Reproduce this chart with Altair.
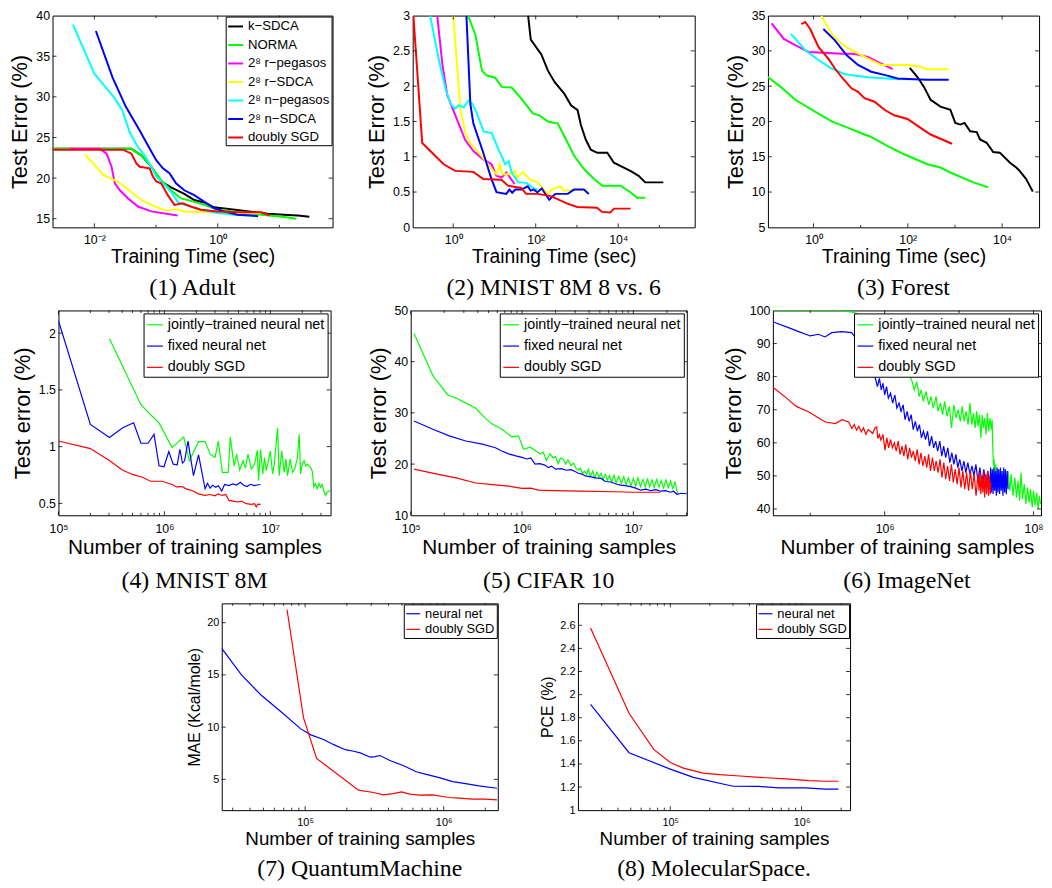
import math
import altair as alt
import pandas as pd

# ================= DATA =================
# ---- (1) Adult : training time (sec) vs test error (%)
A_NAMES = ["k−SDCA", "NORMA", "2⁸ r−pegasos", "2⁸ r−SDCA", "2⁸ n−pegasos", "2⁸ n−SDCA", "doubly SGD"]
A_COLORS = ["#000000", "#00ff00", "#ff00ff", "#ffff00", "#00ffff", "#0000ff", "#ff0000"]
A_KSDCA_X = [0.0021, 0.0399, 0.0577, 0.0836, 0.121, 0.175, 0.287, 0.416, 0.6, 0.87, 1.9, 3.99, 6.53, 13.7, 20, 30.5]
A_KSDCA_Y = [23.6, 23.6, 22.8, 21.4, 19.6, 18.85, 18.05, 17.3, 17.0, 16.4, 16.1, 15.8, 15.6, 15.45, 15.4, 15.25]
A_NORMA_X = [0.0021, 0.0399, 0.0577, 0.0836, 0.121, 0.175, 0.254, 0.368, 0.6, 0.99, 1.83, 5.1, 12.1, 18.7]
A_NORMA_Y = [23.6, 23.6, 22.8, 21.4, 19.75, 18.5, 17.5, 17.2, 16.7, 16.1, 15.9, 15.5, 15.2, 15.0]
A_RPEG_X = [0.004, 0.0123, 0.0158, 0.019, 0.0215, 0.0259, 0.0352, 0.051, 0.0836, 0.224]
A_RPEG_Y = [23.6, 23.6, 23.0, 21.4, 19.35, 18.5, 17.5, 16.5, 15.9, 15.4]
A_RSDCA_X = [0.0071, 0.014, 0.0243, 0.0399, 0.0577, 0.0836, 0.121, 0.155, 0.211, 0.287, 0.99, 3.4, 5.1]
A_RSDCA_Y = [22.9, 20.4, 19.55, 18.3, 17.3, 16.7, 16.2, 16.0, 16.2, 15.9, 15.8, 15.7, 15.7]
A_NPEG_X = [0.0045, 0.01, 0.021, 0.0286, 0.0375, 0.051, 0.0653, 0.0836, 0.1007, 0.137, 0.175, 0.224, 0.287, 0.533, 0.99, 1.83, 3.4, 3.99]
A_NPEG_Y = [38.9, 32.85, 29.9, 28.3, 25.6, 23.8, 22.8, 21.4, 20.2, 19.15, 18.3, 17.1, 16.7, 16.1, 15.7, 15.5, 15.4, 15.3]
A_NSDCA_X = [0.0106, 0.0197, 0.0323, 0.0543, 0.074, 0.1007, 0.129, 0.165, 0.211, 0.287, 0.416, 0.6, 0.87, 1.26, 2.07, 3.4, 4.51]
A_NSDCA_Y = [38.1, 32.4, 28.8, 25.85, 24.0, 22.2, 21.2, 20.6, 19.35, 18.5, 17.9, 17.1, 16.3, 15.9, 15.5, 15.4, 15.3]
A_DSGD_X = [0.0021, 0.0292, 0.0399, 0.048, 0.0543, 0.0786, 0.0889, 0.1007, 0.121, 0.155, 0.1985, 0.27, 0.368, 0.533, 0.99, 2.07, 5.1, 6.95]
A_DSGD_Y = [23.5, 23.5, 23.0, 21.8, 21.4, 21.2, 20.2, 19.6, 19.35, 17.9, 16.7, 16.9, 16.5, 16.1, 15.9, 15.8, 15.8, 15.4]

# ---- (2) MNIST 8M 8 vs. 6
B_KSDCA_X = [65.5, 75.9, 137, 198, 286, 497, 718, 1038, 1247, 1644, 2168, 3133, 5445, 7870, 13677, 19770, 31333, 45290, 124738]
B_KSDCA_Y = [3.0, 2.66, 2.45, 2.22, 2.06, 1.89, 1.73, 1.66, 1.45, 1.24, 1.10, 1.056, 1.056, 0.916, 0.846, 0.80, 0.73, 0.637, 0.637]
B_NORMA_X = [2.29, 3.44, 4.97, 6.5, 10.4, 15.0, 26.1, 45.3, 86.3, 120, 198, 344, 546, 863, 1500, 2606, 4130, 11376, 19770, 28576, 45290]
B_NORMA_Y = [3.0, 2.73, 2.22, 2.15, 2.12, 1.99, 1.98, 1.82, 1.61, 1.59, 1.50, 1.47, 1.24, 1.01, 0.823, 0.684, 0.59, 0.59, 0.498, 0.42, 0.42]
B_RPEG_X = [0.41, 0.545, 0.718, 1.0, 1.94, 3.08, 5.35, 8.47, 11.2, 15.0, 19.4, 30.8]
B_RPEG_Y = [3.0, 2.31, 1.87, 1.66, 1.24, 1.08, 0.963, 0.893, 0.73, 0.707, 0.777, 0.614]
B_RSDCA_X = [1.0, 1.25, 1.5, 1.98, 2.56, 4.88, 9.29, 11.4, 13.4, 15.5, 24, 30.8, 36, 48.8, 70.5, 112, 194, 256, 405, 480, 1770]
B_RSDCA_Y = [3.0, 2.27, 1.66, 1.335, 1.195, 1.01, 0.80, 0.753, 0.893, 0.753, 0.753, 0.80, 0.707, 0.786, 0.684, 0.637, 0.474, 0.544, 0.581, 0.52, 0.535]
B_NPEG_X = [0.275, 0.453, 0.655, 0.863, 1.1, 1.37, 1.8, 2.38, 2.9, 3.77, 5.45, 8.63, 12.5, 15, 18.0, 22, 26.1, 37.7, 60, 94.6, 112]
B_NPEG_Y = [3.0, 2.36, 1.96, 1.75, 1.68, 1.73, 1.70, 1.80, 1.75, 1.61, 1.36, 1.335, 1.10, 1.01, 0.893, 0.94, 0.777, 0.637, 0.63, 0.544, 0.544]
B_NSDCA_X = [2.09, 2.6, 3.08, 5.35, 8.47, 11.2, 19.4, 23, 27, 32, 45, 64.3, 75, 90, 110, 140, 213, 260, 300, 600, 847, 1472, 1941]
B_NSDCA_Y = [3.0, 1.75, 1.47, 1.056, 0.684, 0.498, 0.474, 0.535, 0.49, 0.535, 0.535, 0.581, 0.52, 0.535, 0.498, 0.55, 0.39, 0.44, 0.474, 0.474, 0.535, 0.535, 0.474]
B_DSGD_X = [0.108, 0.177, 0.308, 0.586, 1.117, 3.08, 5.35, 14.7, 21.3, 44.5, 58.6, 111.7, 233, 586, 1019, 3076, 4055, 6427, 7900, 20000]
B_DSGD_Y = [3.0, 1.195, 1.056, 0.893, 0.80, 0.786, 0.684, 0.674, 0.59, 0.558, 0.474, 0.474, 0.442, 0.335, 0.288, 0.279, 0.219, 0.209, 0.265, 0.265]

# ---- (3) Forest
C_KSDCA_X = [110, 160, 220, 304, 492, 798, 1016, 1294, 1600, 2098, 2895, 3400, 4692, 6475, 8935, 14491, 19988, 23496, 32400, 44700]
C_KSDCA_Y = [27.6, 26.3, 24.9, 23.07, 22.1, 21.66, 19.8, 19.56, 19.8, 18.6, 18.5, 17.45, 16.98, 15.67, 15.58, 14.18, 13.47, 13.0, 11.84, 10.06]
C_NORMA_X = [0.108, 0.2, 0.41, 1.08, 2.43, 5.42, 12.1, 16.7, 37.4, 83.8, 259, 492, 798, 2465, 5082]
C_NORMA_Y = [26.3, 24.9, 23.07, 21.4, 20.0, 19.1, 18.15, 17.8, 16.5, 15.35, 13.94, 13.47, 12.77, 11.37, 10.67]
C_RPEG_X = [0.129, 0.235, 0.41, 0.785, 2.06, 3.93, 7.0, 14.3, 27.2, 47.7]
C_RPEG_Y = [33.9, 31.7, 30.8, 29.85, 29.7, 29.6, 29.6, 29.15, 28.2, 27.4]
C_RSDCA_X = [1.45, 2.43, 3.93, 6.37, 14.3, 27.2, 50, 98.4, 187, 250, 736]
C_RSDCA_Y = [35.0, 32.4, 31.0, 30.1, 28.9, 28.0, 28.0, 28.0, 27.75, 27.4, 27.4]
C_NPEG_X = [0.334, 0.668, 1.27, 2.43, 4.61, 14.3, 51.7, 116]
C_NPEG_Y = [32.4, 30.1, 28.7, 27.5, 26.7, 26.25, 26.0, 25.97]
C_NSDCA_X = [1.62, 2.85, 5.0, 8.79, 16.7, 31.9, 60.7, 136, 259, 736]
C_NSDCA_Y = [33.1, 31.5, 29.4, 28.0, 27.05, 26.6, 26.1, 25.97, 25.9, 25.9]
C_DSGD_X = [0.551, 0.668, 0.851, 1.27, 2.06, 2.85, 3.93, 6.37, 8.79, 12.1, 19.7, 31.9, 51.7, 98.4, 187, 304, 492, 865]
C_DSGD_Y = [33.8, 34.1, 33.1, 30.55, 28.9, 27.5, 26.3, 24.7, 24.2, 23.3, 22.8, 21.66, 20.87, 20.35, 19.1, 18.15, 17.55, 16.84]

# ---- (4)-(6) neural nets vs doubly SGD
NN3_NAMES = ["jointly−trained neural net", "fixed neural net", "doubly SGD"]
NN3_COLORS = ["#00ff00", "#0000ff", "#ff0000"]

D_JOINT_X = [3.03e5, 6.0e5, 7.69e5, 8.89e5, 1.18e6, 1.52e6, 1.72e6, 2.10e6, 2.42e6, 2.70e6, 3.00e6, 3.23e6, 3.52e6, 4.0e6, 4.18e6,
             4.55e6, 4.79e6, 5.14e6, 5.52e6, 5.81e6, 6.15e6, 6.61e6, 7.1e6, 7.52e6, 7.73e6, 8.07e6, 8.48e6, 8.79e6, 9.12e6, 9.45e6,
             1.0e7, 1.05e7, 1.09e7, 1.17e7, 1.21e7, 1.28e7, 1.35e7, 1.40e7, 1.45e7, 1.54e7, 1.62e7, 1.70e7, 1.80e7, 1.87e7, 1.93e7,
             2.0e7, 2.08e7, 2.15e7, 2.23e7, 2.39e7, 2.48e7, 2.57e7, 2.67e7, 2.77e7, 2.87e7, 2.97e7, 3.08e7, 3.19e7, 3.31e7, 3.43e7, 3.68e7]
D_JOINT_Y = [1.951, 1.369, 1.267, 1.209, 0.991, 1.084, 0.875, 1.044, 1.044, 0.933, 0.904, 1.049, 0.773, 0.773, 1.084,
             0.831, 0.933, 0.794, 0.875, 0.811, 0.933, 0.802, 0.846, 0.968, 0.70, 0.977, 0.759, 0.904, 0.788, 0.846,
             0.962, 0.759, 0.846, 1.166, 0.744, 0.962, 0.773, 0.89, 0.744, 0.89, 0.773, 0.802, 0.904, 1.108, 0.759,
             0.846, 0.875, 0.831, 0.846, 0.817, 0.788, 0.642, 0.672, 0.628, 0.677, 0.642, 0.666, 0.613, 0.57, 0.599, 0.613]
D_FIXED_X = [1e5, 2e5, 3.03e5, 4.04e5, 5.12e5, 6.0e5, 7.0e5, 7.98e5, 8.9e5, 9.9e5, 1.1e6, 1.21e6, 1.32e6, 1.4e6, 1.48e6, 1.55e6,
             1.67e6, 1.88e6, 2.1e6, 2.42e6, 2.55e6, 2.7e6, 2.85e6, 3.05e6, 3.23e6, 3.47e6, 3.7e6, 4.06e6, 4.4e6, 4.8e6, 5.2e6,
             5.6e6, 6.0e6, 6.5e6, 7.0e6, 7.5e6, 8.07e6]
D_FIXED_Y = [2.11, 1.195, 1.08, 1.166, 1.21, 1.03, 1.03, 1.108, 0.831, 0.823, 0.956, 0.846, 0.84, 0.977, 0.855, 0.875,
             1.049, 0.744, 0.927, 0.628, 0.677, 0.634, 0.66, 0.642, 0.655, 0.608, 0.666, 0.657, 0.672, 0.662, 0.686,
             0.66, 0.648, 0.668, 0.657, 0.662, 0.666]
D_DSGD_X = [1e5, 2e5, 3e5, 4e5, 5e5, 6.2e5, 7.4e5, 9.5e5, 1.18e6, 1.3e6, 1.47e6, 1.6e6, 1.82e6, 2.1e6, 2.4e6, 2.7e6, 3.0e6,
            3.23e6, 3.5e6, 3.8e6, 4.06e6, 4.45e6, 4.96e6, 5.33e6, 5.93e6, 6.6e6, 7.1e6, 7.35e6, 7.62e6, 8.07e6]
D_DSGD_Y = [1.05, 0.983, 0.88, 0.794, 0.755, 0.73, 0.695, 0.695, 0.666, 0.645, 0.648, 0.628, 0.613, 0.584, 0.57, 0.578, 0.566,
            0.584, 0.57, 0.578, 0.526, 0.52, 0.512, 0.52, 0.497, 0.491, 0.497, 0.468, 0.494, 0.491]

E_JOINT_X = [1.07e5, 1.58e5, 2.15e5, 2.55e5, 3.2e5, 3.84e5, 4.5e5, 5.22e5, 6.0e5, 6.62e5, 7.3e5, 8.1e5, 9.3e5, 1.03e6, 1.18e6,
             1.3e6, 1.45e6, 1.55e6, 1.66e6, 1.78e6, 1.9e6, 2.0e6, 2.11e6, 2.22e6, 2.34e6, 2.46e6, 2.59e6, 2.75e6, 2.9e6, 3.05e6,
             3.18e6, 3.35e6, 3.5e6, 3.64e6, 3.8e6, 3.95e6, 4.1e6, 4.32e6, 4.5e6, 4.7e6, 4.9e6, 5.13e6, 5.35e6, 5.6e6, 5.85e6,
             6.1e6, 6.4e6, 6.7e6, 7.0e6, 7.4e6, 7.8e6, 8.2e6, 8.6e6, 9.0e6, 9.5e6, 1.0e7, 1.05e7, 1.1e7, 1.16e7, 1.22e7,
             1.28e7, 1.34e7, 1.4e7, 1.47e7, 1.54e7, 1.62e7, 1.7e7, 1.78e7, 1.87e7, 1.96e7, 2.06e7, 2.16e7, 2.26e7, 2.37e7, 2.45e7, 2.52e7]
E_JOINT_Y = [45.5, 37.3, 33.5, 32.9, 31.8, 30.9, 29.3, 28.0, 27.3, 26.8, 26.0, 25.3, 25.5, 22.9, 23.3,
             22.7, 22.0, 22.3, 20.7, 22.0, 21.2, 21.5, 20.1, 21.2, 21.0, 20.0, 20.8, 19.7, 20.2, 19.2,
             18.8, 19.2, 18.2, 18.6, 18.0, 19.0, 17.6, 18.6, 17.3, 18.4, 17.5, 18.2, 17.0, 18.0, 16.8,
             17.8, 16.5, 17.8, 16.3, 17.6, 16.2, 17.5, 16.0, 17.3, 15.8, 17.2, 15.7, 17.3, 15.6, 17.0,
             15.5, 17.2, 15.6, 16.9, 15.4, 17.0, 15.5, 16.8, 15.3, 16.9, 15.4, 16.7, 15.2, 16.6, 14.9, 14.2]
E_FIXED_X = [1.07e5, 1.58e5, 2.22e5, 3.12e5, 4.4e5, 5.77e5, 6.5e5, 7.58e5, 8.8e5, 9.97e5, 1.1e6, 1.2e6, 1.31e6, 1.45e6, 1.6e6,
             1.72e6, 1.84e6, 2.0e6, 2.26e6, 2.5e6, 2.75e6, 2.97e6, 3.2e6, 3.4e6, 3.7e6, 4.18e6, 4.6e6, 5.13e6, 5.6e6, 6.3e6,
             7.0e6, 7.7e6, 8.5e6, 9.46e6, 1.05e7, 1.16e7, 1.3e7, 1.43e7, 1.6e7, 1.75e7, 1.95e7, 2.15e7, 2.3e7, 2.46e7, 2.7e7, 3.02e7]
E_FIXED_Y = [28.4, 26.8, 25.5, 24.5, 23.9, 23.2, 22.6, 22.0, 21.6, 21.3, 21.0, 21.2, 20.0, 20.1, 19.8,
             19.3, 19.6, 19.0, 19.1, 18.8, 18.9, 18.6, 18.2, 18.1, 17.7, 17.5, 17.3, 17.2, 16.6, 16.5,
             16.1, 15.9, 15.8, 15.6, 15.3, 14.9, 15.1, 14.8, 15.0, 14.7, 14.8, 14.5, 14.7, 14.1, 14.3, 14.2]
E_DSGD_X = [1.07e5, 1.69e5, 2.55e5, 3.84e5, 5.4e5, 7.58e5, 9.97e5, 1.2e6, 1.4e6, 1.97e6, 3.4e6, 6.73e6, 1.0e7, 1.33e7, 1.75e7]
E_DSGD_Y = [19.0, 18.1, 17.3, 16.3, 16.0, 15.7, 15.25, 15.3, 14.9, 14.8, 14.7, 14.6, 14.5, 14.5, 14.5]

F_JOINT_X = [3.15e4, 1e5, 2.64e5, 4e5, 6e5, 1e6, 1.5e6, 2.0e6, 2.3e6, 2.5e6,
             2.7e6, 2.9e6, 3.1e6, 3.3e6, 3.6e6, 3.9e6, 4.2e6, 4.5e6, 4.9e6, 5.2e6,
             5.6e6, 6.0e6, 6.4e6, 6.9e6, 7.4e6, 7.9e6, 8.5e6, 9.1e6, 9.7e6, 1.04e7,
             1.1e7, 1.17e7, 1.24e7, 1.32e7, 1.4e7, 1.48e7, 1.56e7, 1.64e7, 1.72e7, 1.8e7,
             1.88e7, 1.96e7, 2.04e7, 2.12e7, 2.2e7, 2.3e7, 2.4e7, 2.5e7, 2.6e7, 2.7e7,
             2.78e7, 2.82e7, 2.86e7, 2.9e7, 2.95e7, 3.0e7, 3.1e7, 3.2e7, 3.35e7, 3.5e7,
             3.7e7, 3.9e7, 4.1e7, 4.3e7, 4.55e7, 4.8e7, 5.0e7, 5.3e7, 5.6e7, 5.9e7,
             6.2e7, 6.5e7, 6.8e7, 7.1e7, 7.5e7, 7.9e7, 8.3e7, 8.7e7, 9.1e7, 9.6e7,
             1.0e8, 1.05e8, 1.1e8, 1.15e8, 1.2e8, 1.24e8]
F_JOINT_Y = [100, 100, 100, 99.3, 97, 92, 86, 81.5, 79, 76,
             78.5, 74, 76, 72.5, 75.5, 71.5, 74, 70.5, 74, 69.5,
             72, 68.5, 72.5, 68, 71, 64.5, 71.5, 67.5, 70, 66.5,
             71, 66.5, 69.5, 65.5, 72, 65.5, 69, 64.5, 69.5, 65,
             68.5, 61.5, 68.5, 64.5, 67.5, 62.5, 69, 63.5, 67.5, 64,
             67, 60, 56, 53, 55, 50, 53.5, 47, 52, 45.5,
             51, 46.5, 50, 45, 51.5, 45.5, 50.5, 44, 49.5, 43.5,
             48.5, 42.5, 51, 43, 47.5, 41.5, 46.5, 42, 46, 40.5,
             45.5, 41, 45, 40, 44, 41.5]
F_FIXED_X = [3.15e4, 5.1e4, 7e4, 1e5, 1.29e5, 1.58e5, 1.95e5, 2.64e5, 3.6e5, 5e5,
             6.5e5, 7.44e5, 8e5, 8.5e5, 9e5, 9.5e5, 1.0e6, 1.06e6, 1.12e6, 1.2e6,
             1.28e6, 1.37e6, 1.46e6, 1.56e6, 1.66e6, 1.77e6, 1.88e6, 2.0e6, 2.13e6, 2.27e6,
             2.42e6, 2.58e6, 2.75e6, 2.93e6, 3.12e6, 3.32e6, 3.54e6, 3.77e6, 4.0e6, 4.27e6,
             4.55e6, 4.84e6, 5.15e6, 5.5e6, 5.85e6, 6.2e6, 6.6e6, 7.05e6, 7.5e6, 8.0e6,
             8.5e6, 9.05e6, 9.6e6, 1.02e7, 1.09e7, 1.16e7, 1.23e7, 1.31e7, 1.4e7, 1.49e7,
             1.58e7, 1.68e7, 1.79e7, 1.9e7, 2.02e7, 2.15e7, 2.29e7, 2.43e7, 2.58e7, 2.65e7,
             2.72e7, 2.79e7, 2.86e7, 2.93e7, 3.0e7, 3.08e7, 3.16e7, 3.24e7, 3.32e7, 3.41e7,
             3.5e7, 3.59e7, 3.68e7, 3.78e7, 3.88e7, 3.98e7, 4.08e7, 4.19e7, 4.3e7, 4.42e7, 4.55e7]
F_FIXED_Y = [96.6, 94.8, 93.6, 92.3, 92.8, 92.0, 93.3, 93.6, 93.3, 89,
             83, 79.8, 77, 79.5, 76, 78, 74.5, 77, 73.5, 75,
             72, 74.5, 70.5, 72, 69.5, 71.5, 67, 69.5, 66.5, 68.5,
             64, 66.5, 63.5, 65.5, 61.5, 63.5, 61, 63.5, 59, 62,
             58.5, 60.5, 57.5, 60.5, 56, 59, 55.5, 58.5, 54, 57,
             53.5, 56.5, 52.5, 55, 51.5, 54.5, 51, 54, 50.5, 53,
             50, 53.5, 48.5, 52.5, 48, 52, 47, 51.5, 46.5, 52.5,
             45, 52, 44.5, 52.5, 45.5, 51.5, 44, 52.5, 45, 52,
             44.5, 52.5, 45.5, 51.5, 44, 52.5, 45, 52, 44.5, 51.5, 46]
F_DSGD_X = [3.15e4, 4.64e4, 6.5e4, 9.6e4, 1.3e5, 1.6e5, 2.18e5, 2.67e5, 3.28e5, 3.63e5,
            3.9e5, 4.2e5, 4.5e5, 4.85e5, 5.2e5, 5.6e5, 6.0e5, 6.4e5, 6.9e5, 7.4e5,
            7.82e5, 8.1e5, 8.5e5, 8.9e5, 9.5e5, 1.01e6, 1.07e6, 1.13e6, 1.2e6, 1.27e6,
            1.35e6, 1.43e6, 1.52e6, 1.61e6, 1.71e6, 1.81e6, 1.92e6, 2.04e6, 2.16e6, 2.29e6,
            2.43e6, 2.58e6, 2.73e6, 2.9e6, 3.07e6, 3.26e6, 3.46e6, 3.67e6, 3.89e6, 4.13e6,
            4.38e6, 4.64e6, 4.92e6, 5.22e6, 5.54e6, 5.87e6, 6.23e6, 6.6e6, 7.0e6, 7.43e6,
            7.88e6, 8.36e6, 8.87e6, 9.4e6, 9.97e6, 1.06e7, 1.12e7, 1.19e7, 1.26e7, 1.34e7,
            1.42e7, 1.5e7, 1.59e7, 1.69e7, 1.79e7, 1.85e7, 1.9e7, 1.96e7, 2.02e7, 2.08e7,
            2.14e7, 2.2e7, 2.27e7, 2.34e7, 2.41e7, 2.48e7, 2.55e7, 2.62e7, 2.67e7]
F_DSGD_Y = [76.8, 73.8, 71, 69.3, 67.5, 66.3, 65.8, 67, 66.3, 64.3,
            65.5, 63.8, 65, 63.3, 64.5, 62.5, 64, 63.5, 62.8, 64.5,
            64.8, 61.3, 62.5, 60.8, 62.5, 57.8, 61.5, 58.5, 61, 58.5,
            60, 57.5, 60.5, 56.5, 59, 56, 59.5, 55, 58.5, 55.5,
            57.5, 54.5, 58, 53.5, 57, 53, 56, 52.5, 56.5, 51.5,
            55.5, 51.5, 54.5, 51, 55, 49.5, 54, 49, 53, 48.5,
            53.5, 48, 52, 47.5, 52.5, 46.5, 51.5, 46, 51, 45.5,
            51.5, 46, 50.5, 44, 50.5, 45.5, 51, 44.5, 50, 45,
            51, 43.5, 50.5, 44.5, 51.5, 44, 50, 44.5, 48]

# ---- (7) QuantumMachine, (8) MolecularSpace
NN2_NAMES = ["neural net", "doubly SGD"]
NN2_COLORS = ["#0000ff", "#ff0000"]
G_NN_X = [2.5e4, 3.47e4, 4.82e4, 6.7e4, 9.3e4, 1.1e5, 1.37e5, 1.61e5, 1.95e5, 2.24e5, 2.5e5, 2.95e5, 3.2e5, 3.47e5, 4.09e5,
          5.1e5, 6.34e5, 7.48e5, 9.3e5, 1.16e6, 1.44e6, 1.8e6, 2.43e6]
G_NN_Y = [17.54, 15.0, 13.05, 11.47, 9.83, 9.26, 8.79, 8.32, 7.84, 7.69, 7.53, 7.12, 7.18, 7.28, 6.8,
          6.33, 5.73, 5.48, 5.16, 4.78, 4.59, 4.37, 4.15]
G_DSGD_X = [7.4e4, 9.73e4, 1.21e5, 2.43e5, 3.11e5, 3.67e5, 4.32e5, 4.96e5, 5.69e5, 6.7e5, 8.34e5, 9.84e5, 1.1e6, 1.29e6,
            1.61e6, 2.0e6, 2.43e6]
G_DSGD_Y = [21.26, 10.9, 7.0, 3.96, 3.74, 3.52, 3.64, 3.80, 3.58, 3.49, 3.52, 3.36, 3.26, 3.2, 3.1, 3.1, 3.04]
H_NN_X = [2.47e4, 4.85e4, 1e5, 1.5e5, 3.0e5, 4.76e5, 6.74e5, 1.07e6, 1.52e6, 1.91e6]
H_NN_Y = [1.915, 1.497, 1.355, 1.284, 1.207, 1.205, 1.193, 1.193, 1.182, 1.182]
H_DSGD_X = [2.47e4, 4.85e4, 7.48e4, 1e5, 1.26e5, 1.78e5, 2.38e5, 3.18e5, 4.76e5, 7.57e5, 1.14e6, 1.52e6, 1.91e6]
H_DSGD_Y = [2.577, 1.838, 1.526, 1.412, 1.364, 1.321, 1.307, 1.298, 1.284, 1.27, 1.256, 1.25, 1.25]

# tick values
A_XT, A_YT = [0.01, 1], [15, 20, 25, 30, 35, 40]
B_XT, B_YT = [1, 100, 10000], [0, 0.5, 1, 1.5, 2, 2.5, 3]
C_XT, C_YT = [1, 100, 10000], [5, 10, 15, 20, 25, 30, 35]
D_XT, D_YT = [1e5, 1e6, 1e7], [0.5, 1, 1.5, 2]
E_XT, E_YT = [1e5, 1e6, 1e7], [10, 20, 30, 40, 50]
F_XT, F_YT = [1e6, 1e8], [40, 50, 60, 70, 80, 90, 100]
G_XT, G_YT = [1e5, 1e6], [5, 10, 15, 20]
H_XT, H_YT = [1e5, 1e6], [1, 1.2, 1.4, 1.6, 1.8, 2, 2.2, 2.4, 2.6]

# ================= HELPERS =================
SANS = "Liberation Sans, Arial, Helvetica, sans-serif"
SERIF = "Liberation Serif, Times New Roman, serif"
SUP = str.maketrans("0123456789-", "⁰¹²³⁴⁵⁶⁷⁸⁹⁻")


def long_table(names, series):
    rows = []
    for name, (xs, ys) in zip(names, series):
        if len(xs) != len(ys):
            raise ValueError(f"{name}: {len(xs)} x vs {len(ys)} y")
        for j, (xv, yv) in enumerate(zip(xs, ys)):
            rows.append({"x": xv, "y": yv, "s": name, "j": j})
    return pd.DataFrame(rows)


def pow_expr(vals):
    expr = ""
    for v in vals[:-1]:
        e = round(math.log10(v))
        expr += f"datum.value < {v * 3:g} ? '10{str(e).translate(SUP)}' : "
    e = round(math.log10(vals[-1]))
    return expr + f"'10{str(e).translate(SUP)}'"


def minor_ticks(dom, major, full):
    lo, hi = math.floor(math.log10(dom[0])), math.ceil(math.log10(dom[1]))
    out = []
    for k in range(lo, hi + 1):
        for m in (range(1, 10) if full else [1]):
            v = m * 10 ** k
            if dom[0] < v < dom[1] and not any(abs(v - t) / t < 1e-9 for t in major):
                out.append(v)
    return out


def spacer(w, h=10, top_pad=0):
    c = alt.Chart(pd.DataFrame({"v": [0]})).mark_point(opacity=0).encode(
        x=alt.value(0), y=alt.value(0))
    if top_pad:
        return c.properties(width=w, height=h, title=alt.TitleParams(
            text=".", fontSize=top_pad, color="#ffffff", offset=0, orient="top"))
    return c.properties(width=w, height=h)


def panel(names, colors, series, xdom, ydom, xt, yt, w, h, xtitle, ytitle, caption, st):
    df = long_table(names, series)
    xs = alt.Scale(type="log", domain=xdom, nice=False)
    ys = alt.Scale(type="linear", domain=ydom, nice=False, zero=False)
    if st["legend"]:
        leg = alt.Legend(title=None, orient="top-right", offset=st["leg_off"], padding=st["leg_pad"],
                         strokeColor="black", fillColor="white", cornerRadius=0,
                         symbolType="stroke", symbolSize=st["sym"], symbolStrokeWidth=st["sw"],
                         labelFont=SANS, labelFontSize=st["leg_fs"], labelColor="black",
                         rowPadding=st["row_pad"], labelLimit=0, labelOffset=4)
    else:
        leg = None
    lines = alt.Chart(df).mark_line(strokeWidth=st["sw"], clip=True).encode(
        x=alt.X("x:Q", scale=xs, axis=alt.Axis(
            title=xtitle, values=xt, tickCount=50, labelExpr=pow_expr(xt), ticks=False, domain=False,
            grid=False, labelFont=SANS, labelFontSize=st["tick_fs"], labelColor="black",
            labelPadding=st["xl_pad"], labelFlush=False, labelOverlap=False, titleFont=SANS,
            titleFontSize=st["xt_fs"], titleFontWeight="normal", titleColor="black",
            titlePadding=st["xt_pad"])),
        y=alt.Y("y:Q", scale=ys, axis=alt.Axis(
            title=ytitle, values=yt, tickCount=50, labelExpr="format(datum.value, '~g')",
            ticks=False, domain=False, grid=False,
            labelFont=SANS, labelFontSize=st["tick_fs"], labelColor="black", labelPadding=3,
            labelFlush=False, labelOverlap=False, titleFont=SANS, titleFontSize=st["yt_fs"],
            titleFontWeight="normal", titleColor="black", titlePadding=4)),
        color=alt.Color("s:N", scale=alt.Scale(domain=names, range=colors), legend=leg),
        order=alt.Order("j:Q"),
    )
    xmaj = pd.DataFrame({"x": [v for v in xt if xdom[0] <= v <= xdom[1]]})
    xmin = pd.DataFrame({"x": minor_ticks(xdom, xt, st["minor_full"])})
    ytk = pd.DataFrame({"y": [v for v in yt if ydom[0] < v < ydom[1]]})
    L, l = 4, 2.5
    layers = [lines]
    for d, ln in ((xmaj, L), (xmin, l)):
        if len(d):
            layers.append(alt.Chart(d).mark_rule(color="black", strokeWidth=0.8).encode(
                x=alt.X("x:Q", scale=xs), y=alt.value(h), y2=alt.value(h - ln)))
            layers.append(alt.Chart(d).mark_rule(color="black", strokeWidth=0.8).encode(
                x=alt.X("x:Q", scale=xs), y=alt.value(0), y2=alt.value(ln)))
    layers.append(alt.Chart(ytk).mark_rule(color="black", strokeWidth=0.8).encode(
        y=alt.Y("y:Q", scale=ys), x=alt.value(0), x2=alt.value(L)))
    layers.append(alt.Chart(ytk).mark_rule(color="black", strokeWidth=0.8).encode(
        y=alt.Y("y:Q", scale=ys), x=alt.value(w), x2=alt.value(w - L)))
    return alt.layer(*layers).properties(
        width=w, height=h,
        view=alt.ViewBackground(stroke="black", strokeWidth=1),
        title=alt.TitleParams(text=caption, orient="bottom", font=SERIF, fontSize=24,
                              fontWeight="normal", color="black", offset=st["cap_off"], anchor="middle"),
    )


ST1 = dict(sw=2, tick_fs=12.5, xt_fs=19.5, yt_fs=22, xl_pad=6, xt_pad=2, legend=False, leg_off=1,
           leg_pad=1.5, sym=225, row_pad=3.7, leg_fs=13.3, cap_off=10, minor_full=False)
ST1L = dict(ST1, legend=True)
ST2 = dict(sw=1.2, tick_fs=12.5, xt_fs=21, yt_fs=22, xl_pad=7, xt_pad=2, legend=True, leg_off=3,
           leg_pad=2.5, sym=256, row_pad=5.5, leg_fs=14.5, cap_off=12, minor_full=True)
ST2d = dict(ST2, minor_full=False)
ST3 = dict(sw=1.2, tick_fs=11, xt_fs=19, yt_fs=16, xl_pad=7, xt_pad=2, legend=True, leg_off=1,
           leg_pad=1.5, sym=196, row_pad=0.8, leg_fs=13, cap_off=9, minor_full=True)

p1 = panel(A_NAMES, A_COLORS,
           [(A_KSDCA_X, A_KSDCA_Y), (A_NORMA_X, A_NORMA_Y), (A_RPEG_X, A_RPEG_Y), (A_RSDCA_X, A_RSDCA_Y),
            (A_NPEG_X, A_NPEG_Y), (A_NSDCA_X, A_NSDCA_Y), (A_DSGD_X, A_DSGD_Y)],
           [0.0021, 72.6], [13.94, 40], A_XT, A_YT, 283, 214,
           "Training Time (sec)", "Test Error (%)", "(1) Adult", ST1L)
p2 = panel(A_NAMES, A_COLORS,
           [(B_KSDCA_X, B_KSDCA_Y), (B_NORMA_X, B_NORMA_Y), (B_RPEG_X, B_RPEG_Y), (B_RSDCA_X, B_RSDCA_Y),
            (B_NPEG_X, B_NPEG_Y), (B_NSDCA_X, B_NSDCA_Y), (B_DSGD_X, B_DSGD_Y)],
           [0.104, 7.18e5], [0, 3], B_XT, B_YT, 285, 214,
           "Training Time (sec)", "Test Error (%)", "(2) MNIST 8M 8 vs. 6", ST1)
p3 = panel(A_NAMES, A_COLORS,
           [(C_KSDCA_X, C_KSDCA_Y), (C_NORMA_X, C_NORMA_Y), (C_RPEG_X, C_RPEG_Y), (C_RSDCA_X, C_RSDCA_Y),
            (C_NPEG_X, C_NPEG_Y), (C_NSDCA_X, C_NSDCA_Y), (C_DSGD_X, C_DSGD_Y)],
           [0.108, 6.07e4], [5, 35], C_XT, C_YT, 274, 214,
           "Training Time (sec)", "Test Error (%)", "(3) Forest", ST1)
p4 = panel(NN3_NAMES, NN3_COLORS,
           [(D_JOINT_X, D_JOINT_Y), (D_FIXED_X, D_FIXED_Y), (D_DSGD_X, D_DSGD_Y)],
           [1e5, 3.7e7], [0.395, 2.2], D_XT, D_YT, 275, 207,
           "Number of training samples", "Test error (%)", "(4) MNIST 8M", ST2)
p5 = panel(NN3_NAMES, NN3_COLORS,
           [(E_JOINT_X, E_JOINT_Y), (E_FIXED_X, E_FIXED_Y), (E_DSGD_X, E_DSGD_Y)],
           [1e5, 3.02e7], [10, 50], E_XT, E_YT, 279, 207,
           "Number of training samples", "Test error (%)", "(5) CIFAR 10", ST2)
p6 = panel(NN3_NAMES, NN3_COLORS,
           [(F_JOINT_X, F_JOINT_Y), (F_FIXED_X, F_FIXED_Y), (F_DSGD_X, F_DSGD_Y)],
           [3.15e4, 1.26e8], [38.1, 100], F_XT, F_YT, 271, 207,
           "Number of training samples", "Test error (%)", "(6) ImageNet", ST2d)
p7 = panel(NN2_NAMES, NN2_COLORS, [(G_NN_X, G_NN_Y), (G_DSGD_X, G_DSGD_Y)],
           [2.5e4, 2.46e6], [2.05, 21.85], G_XT, G_YT, 279, 209,
           "Number of training samples", "MAE (Kcal/mole)", "(7) QuantumMachine", ST3)
p8 = panel(NN2_NAMES, NN2_COLORS, [(H_NN_X, H_NN_Y), (H_DSGD_X, H_DSGD_Y)],
           [1.98e4, 2.34e6], [1, 2.79], H_XT, H_YT, 275, 209,
           "Number of training samples", "PCE (%)", "(8) MolecularSpace.", ST3)


def row(*charts):
    return alt.hconcat(*charts, spacing=0, bounds="flush").resolve_scale(
        color="independent").resolve_legend(color="independent")


row1 = row(spacer(41), p1, spacer(81), p2, spacer(74), p3)
row2 = row(spacer(47), p4, spacer(81), p5, spacer(87), p6)
row3 = row(spacer(212, top_pad=3), p7, spacer(81), p8)

chart = alt.vconcat(row1, row2, row3, spacing=3).resolve_scale(
    color="independent").resolve_legend(color="independent").properties(
    padding={"left": 0, "top": -4, "right": 0, "bottom": 0}, background="white"
).configure_view(stroke="transparent").configure_axis(grid=False)

chart.save("out.html", embed_options={"renderer": "svg", "actions": False})
